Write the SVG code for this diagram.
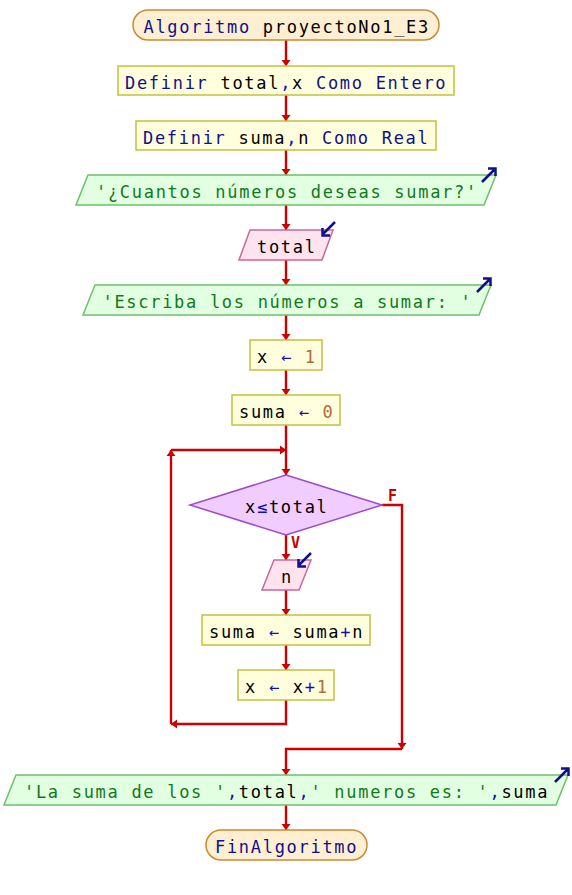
<svg xmlns="http://www.w3.org/2000/svg" width="572" height="895" viewBox="0 0 572 895">
<style>
text{font-family:"DejaVu Sans Mono","Liberation Mono",monospace;font-size:17px;letter-spacing:1.7px;fill:#000000}
.kw{fill:#10108a}
.st{fill:#0f7a1a}
.nm{fill:#b06a3a}
.op{fill:#1010b0}
.term{fill:#ffefd2;stroke:#c98a30;stroke-width:1.5}
.proc{fill:#ffffdd;stroke:#c4c040;stroke-width:1.5}
.out{fill:#e2ffe2;stroke:#6cc06c;stroke-width:1.5}
.inp{fill:#ffe4f0;stroke:#cc6699;stroke-width:1.5}
.dec{fill:#f0ccff;stroke:#9a4ccc;stroke-width:1.5}
.icon{fill:none;stroke:#10108a;stroke-width:2.5}
.con{fill:none;stroke:#cc0000;stroke-width:2.4;marker-end:url(#ah)}
.lbl{font-family:"DejaVu Sans Mono",monospace;font-size:15px;font-weight:bold;fill:#cc0000;letter-spacing:0}
</style>
<defs>
<marker id="ah" markerUnits="userSpaceOnUse" markerWidth="7" markerHeight="10" refX="6" refY="5" orient="auto" viewBox="0 0 7 10">
<path d="M0,0.5 L6,5 L0,9.5 z" fill="#cc0000"/>
</marker>
</defs>
<g id="connectors">
<path class="con" d="M286,40 V66"/>
<path class="con" d="M286,95 V121"/>
<path class="con" d="M286,150 V175"/>
<path class="con" d="M286,205 V230"/>
<path class="con" d="M286,260 V285"/>
<path class="con" d="M286,315 V340"/>
<path class="con" d="M286,370 V395"/>
<path class="con" d="M286,425 V475"/>
<path class="con" d="M286,535 V560"/>
<path class="con" d="M286,590 V615"/>
<path class="con" d="M286,645 V670"/>
<path class="con" d="M286,700 V724 H171"/>
<path class="con" d="M171,724 V450"/>
<path class="con" d="M171,450 H286"/>
<path class="con" d="M382,505 H402 V749"/>
<path class="con" d="M402,749 H286 V775"/>
<path class="con" d="M286,805 V830"/>
<text class="lbl" x="388" y="501">F</text>
<text class="lbl" x="291" y="548">V</text>
</g>
<g id="start">
<rect class="term" x="133" y="10" width="306" height="30" rx="15"/>
<text x="143.5" y="32.5" xml:space="preserve"><tspan class="kw">Algoritmo</tspan> proyectoNo1_E3</text>
</g>
<g id="def1">
<rect class="proc" x="118" y="66" width="336" height="29"/>
<text x="125" y="88.5" xml:space="preserve"><tspan class="kw">Definir</tspan> total<tspan class="op">,</tspan>x <tspan class="kw">Como Entero</tspan></text>
</g>
<g id="def2">
<rect class="proc" x="136" y="121" width="300" height="29"/>
<text x="143" y="143.5" xml:space="preserve"><tspan class="kw">Definir</tspan> suma<tspan class="op">,</tspan>n <tspan class="kw">Como Real</tspan></text>
</g>
<g id="out1">
<polygon class="out" points="88,175 496,175 484,205 76,205"/>
<text x="96" y="197.5" class="st" xml:space="preserve">'¿Cuantos números deseas sumar?'</text>
<path class="icon" d="M482,182 L495,169 M488,168.5 H495.5 V176"/>
</g>
<g id="in1">
<polygon class="inp" points="250,230 333,230 322,260 239,260"/>
<text x="257" y="252.5" xml:space="preserve">total</text>
<path class="icon" d="M335,222 L323,234 M322.5,228 V235.5 H330"/>
</g>
<g id="out2">
<polygon class="out" points="95,285 491,285 479,315 83,315"/>
<text x="102.5" y="307.5" class="st" xml:space="preserve">'Escriba los números a sumar: '</text>
<path class="icon" d="M477,292 L490,279 M483,278.5 H490.5 V286"/>
</g>
<g id="assign1">
<rect class="proc" x="250" y="340" width="72" height="30"/>
<text x="257" y="362.5" xml:space="preserve">x <tspan class="op">←</tspan> <tspan class="nm">1</tspan></text>
</g>
<g id="assign2">
<rect class="proc" x="232" y="395" width="108" height="30"/>
<text x="239" y="417.5" xml:space="preserve">suma <tspan class="op">←</tspan> <tspan class="nm">0</tspan></text>
</g>
<g id="cond">
<polygon class="dec" points="286,475 382,505 286,535 190,505"/>
<text x="245" y="513" xml:space="preserve">x<tspan class="op">≤</tspan>total</text>
</g>
<g id="in2">
<polygon class="inp" points="274,560 311,560 299,590 262,590"/>
<text x="281" y="582.5" xml:space="preserve">n</text>
<path class="icon" d="M311,553 L299,565 M298.5,559 V566.5 H306"/>
</g>
<g id="assign3">
<rect class="proc" x="202" y="615" width="168" height="30"/>
<text x="209" y="637.5" xml:space="preserve">suma <tspan class="op">←</tspan> suma<tspan class="op">+</tspan>n</text>
</g>
<g id="assign4">
<rect class="proc" x="238" y="670" width="96" height="30"/>
<text x="245" y="692.5" xml:space="preserve">x <tspan class="op">←</tspan> x<tspan class="op">+</tspan><tspan class="nm">1</tspan></text>
</g>
<g id="out3">
<polygon class="out" points="16,775 568,775 556,805 4,805"/>
<text x="24" y="797.5" xml:space="preserve"><tspan class="st">'La suma de los '</tspan><tspan class="op">,</tspan>total<tspan class="op">,</tspan><tspan class="st">' numeros es: '</tspan><tspan class="op">,</tspan>suma</text>
<path class="icon" d="M555,782 L568,769 M561,768.5 H568.5 V776"/>
</g>
<g id="end">
<rect class="term" x="206" y="830" width="161" height="30" rx="15"/>
<text x="215" y="852.5" class="kw" xml:space="preserve">FinAlgoritmo</text>
</g>
</svg>
